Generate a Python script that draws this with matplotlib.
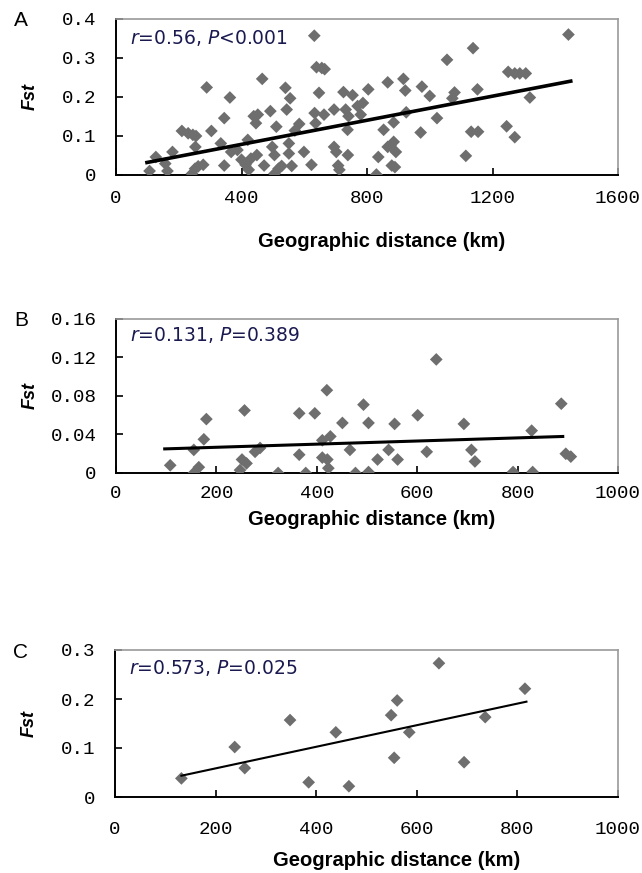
import numpy as np
import matplotlib
matplotlib.use("Agg")
import matplotlib.pyplot as plt

plt.rcParams['mathtext.fontset'] = 'dejavusans'

# ---------------- data ----------------
dist_A = [107, 127, 164, 157, 180, 210, 230, 245, 255, 242, 252, 262, 278, 253, 289, 304, 334, 345,
          363, 345, 367, 387, 400, 413, 420, 423, 430, 439, 446, 452, 449, 466, 472, 492, 498, 505,
          511, 505, 518, 528, 540, 544, 551, 551, 555, 560, 570, 584, 599, 623, 632, 633, 636, 639,
          656, 665, 647, 663, 695, 695, 702, 708, 712, 725, 732, 738, 739, 741, 754, 770, 780, 787,
          804, 830, 836, 853, 866, 866, 875, 885, 879, 889, 885, 892, 916, 922, 925, 971, 975, 1000,
          1023, 1055, 1079, 1072, 1115, 1132, 1138, 1152, 1154, 1245, 1250, 1271, 1271, 1287, 1306,
          1319, 1442]
fst_A = [0.009, 0.045, 0.009, 0.028, 0.058, 0.112, 0.106, 0.102, 0.099, 0.002, 0.015, 0.021, 0.025,
         0.071, 0.224, 0.112, 0.080, 0.145, 0.198, 0.023, 0.058, 0.063, 0.038, 0.025, 0.089, 0.012,
         0.041, 0.150, 0.132, 0.154, 0.050, 0.246, 0.023, 0.163, 0.071, 0.050, 0.123, 0.002, 0.015,
         0.022, 0.223, 0.167, 0.080, 0.054, 0.196, 0.022, 0.113, 0.130, 0.058, 0.025, 0.357, 0.158,
         0.132, 0.276, 0.274, 0.271, 0.210, 0.154, 0.167, 0.071, 0.058, 0.023, 0.012, 0.212, 0.167,
         0.115, 0.050, 0.150, 0.204, 0.176, 0.154, 0.184, 0.219, 0.000, 0.045, 0.115, 0.237, 0.071,
         0.074, 0.084, 0.023, 0.019, 0.134, 0.058, 0.246, 0.216, 0.160, 0.108, 0.226, 0.202, 0.145,
         0.295, 0.211, 0.196, 0.048, 0.110, 0.325, 0.219, 0.110, 0.124, 0.264, 0.260, 0.096, 0.260,
         0.260, 0.198, 0.360]

dist_B = [108, 155, 155, 165, 175, 180, 247, 251, 256, 260, 277, 287, 323, 365, 365, 378, 396, 411,
          411, 420, 421, 423, 427, 451, 466, 477, 493, 503, 503, 521, 543, 555, 561, 601, 619, 638,
          693, 708, 715, 791, 828, 830, 887, 896, 906]
fst_B = [0.008, 0.000, 0.024, 0.006, 0.035, 0.056, 0.003, 0.014, 0.065, 0.010, 0.022, 0.026, 0.000,
         0.062, 0.019, 0.000, 0.062, 0.034, 0.016, 0.086, 0.014, 0.005, 0.038, 0.052, 0.024, 0.000,
         0.071, 0.052, 0.001, 0.014, 0.024, 0.051, 0.014, 0.060, 0.022, 0.118, 0.051, 0.024, 0.012,
         0.001, 0.044, 0.001, 0.072, 0.020, 0.017]

dist_C = [132, 238, 258, 348, 385, 439, 465, 549, 555, 561, 585, 644, 694, 736, 815]
fst_C = [0.038, 0.102, 0.059, 0.157, 0.030, 0.132, 0.022, 0.167, 0.080, 0.197, 0.132, 0.273, 0.071,
         0.163, 0.221]

# linear trend lines (distance range and fitted Fst at both ends)
trend_A_x = [93, 1455]
trend_A_y = [0.030, 0.241]
trend_B_x = [94, 893]
trend_B_y = [0.025, 0.038]
trend_C_x = [130, 820]
trend_C_y = [0.043, 0.195]

panels = ['A', 'B', 'C']
stats = [r'$\it{r}$=0.56, $\it{P}$<0.001', r'$\it{r}$=0.131, $\it{P}$=0.389', r'$\it{r}$=0.573, $\it{P}$=0.025']
xticks_A = [0, 400, 800, 1200, 1600]
xticks_BC = [0, 200, 400, 600, 800, 1000]
yticks_A = [0, 0.1, 0.2, 0.3, 0.4]
yticks_B = [0, 0.04, 0.08, 0.12, 0.16]
yticks_C = [0, 0.1, 0.2, 0.3]
ylabels_A = ['0', '0.1', '0.2', '0.3', '0.4']
ylabels_B = ['0', '0.04', '0.08', '0.12', '0.16']
ylabels_C = ['0', '0.1', '0.2', '0.3']
xlabel = 'Geographic distance (km)'

# ---------------- figure ----------------
W, H = 642, 873
fig = plt.figure(figsize=(W / 100, H / 100), dpi=100)


def rect(l, t, r, b):
    return [l / W, 1 - b / H, (r - l) / W, (b - t) / H]


cfg = [
    dict(r=rect(116, 19, 618, 174.5), x=dist_A, y=fst_A, tx=trend_A_x, ty=trend_A_y, xt=xticks_A,
         yt=yticks_A, yl=ylabels_A, xlim=1600, ylim=0.4, lw=2.6, xlab=(0.53, -0.434), tpad=11),
    dict(r=rect(116, 319, 618, 473), x=dist_B, y=fst_B, tx=trend_B_x, ty=trend_B_y, xt=xticks_BC,
         yt=yticks_B, yl=ylabels_B, xlim=1000, ylim=0.16, lw=2.2, xlab=(0.51, -0.30), tpad=9),
    dict(r=rect(115, 650, 618, 797), x=dist_C, y=fst_C, tx=trend_C_x, ty=trend_C_y, xt=xticks_BC,
         yt=yticks_C, yl=ylabels_C, xlim=1000, ylim=0.3, lw=1.5, xlab=(0.56, -0.43), tpad=17),
]

tick_font = dict(family='Liberation Mono', size=13.8)

for i, c in enumerate(cfg):
    ax = fig.add_axes(c['r'])
    ax.scatter(c['x'], c['y'], marker='D', s=42, color='#6e6e6e', edgecolors='none', zorder=3)
    ax.plot(c['tx'], c['ty'], color='black', lw=c['lw'], zorder=4, solid_capstyle='butt')

    ax.set_xlim(0, c['xlim'])
    ax.set_ylim(0, c['ylim'])
    ax.set_xticks(c['xt'])
    ax.set_xticklabels([str(v) for v in c['xt']], fontdict=tick_font)
    ax.set_yticks(c['yt'])
    ax.set_yticklabels(c['yl'], fontdict=tick_font)
    ax.tick_params(direction='in', length=5, width=1.2, colors='black')
    ax.tick_params(axis='x', pad=c['tpad'])
    ax.tick_params(axis='y', pad=14)

    for s in ['left', 'bottom']:
        ax.spines[s].set_color('black')
        ax.spines[s].set_linewidth(1.4)
    for s in ['top', 'right']:
        ax.spines[s].set_color('#9a9a9a')
        ax.spines[s].set_linewidth(1.2)

    ax.set_xlabel(xlabel, fontsize=14.5, fontweight='bold', family='Liberation Sans')
    ax.xaxis.set_label_coords(*c['xlab'])
    ax.xaxis.label.set_va('center')
    ax.set_ylabel('Fst', fontsize=13, fontweight='bold', fontstyle='italic', family='Liberation Sans')
    ax.yaxis.set_label_coords(-0.17, 0.5)
    ax.yaxis.label.set_va('center')

    ax.text(0.028, 0.875 if i != 1 else 0.896, stats[i], transform=ax.transAxes, fontsize=13.5,
            color='#1a1a50', va='center', ha='left', family='DejaVu Sans')

    bb = c['r']
    top_px = (1 - (bb[1] + bb[3])) * H
    fig.text(21 / W, 1 - (top_px + 2) / H, panels[i], fontsize=15, family='Liberation Sans',
             ha='center', va='center')

fig.savefig('out.png', dpi=100)
